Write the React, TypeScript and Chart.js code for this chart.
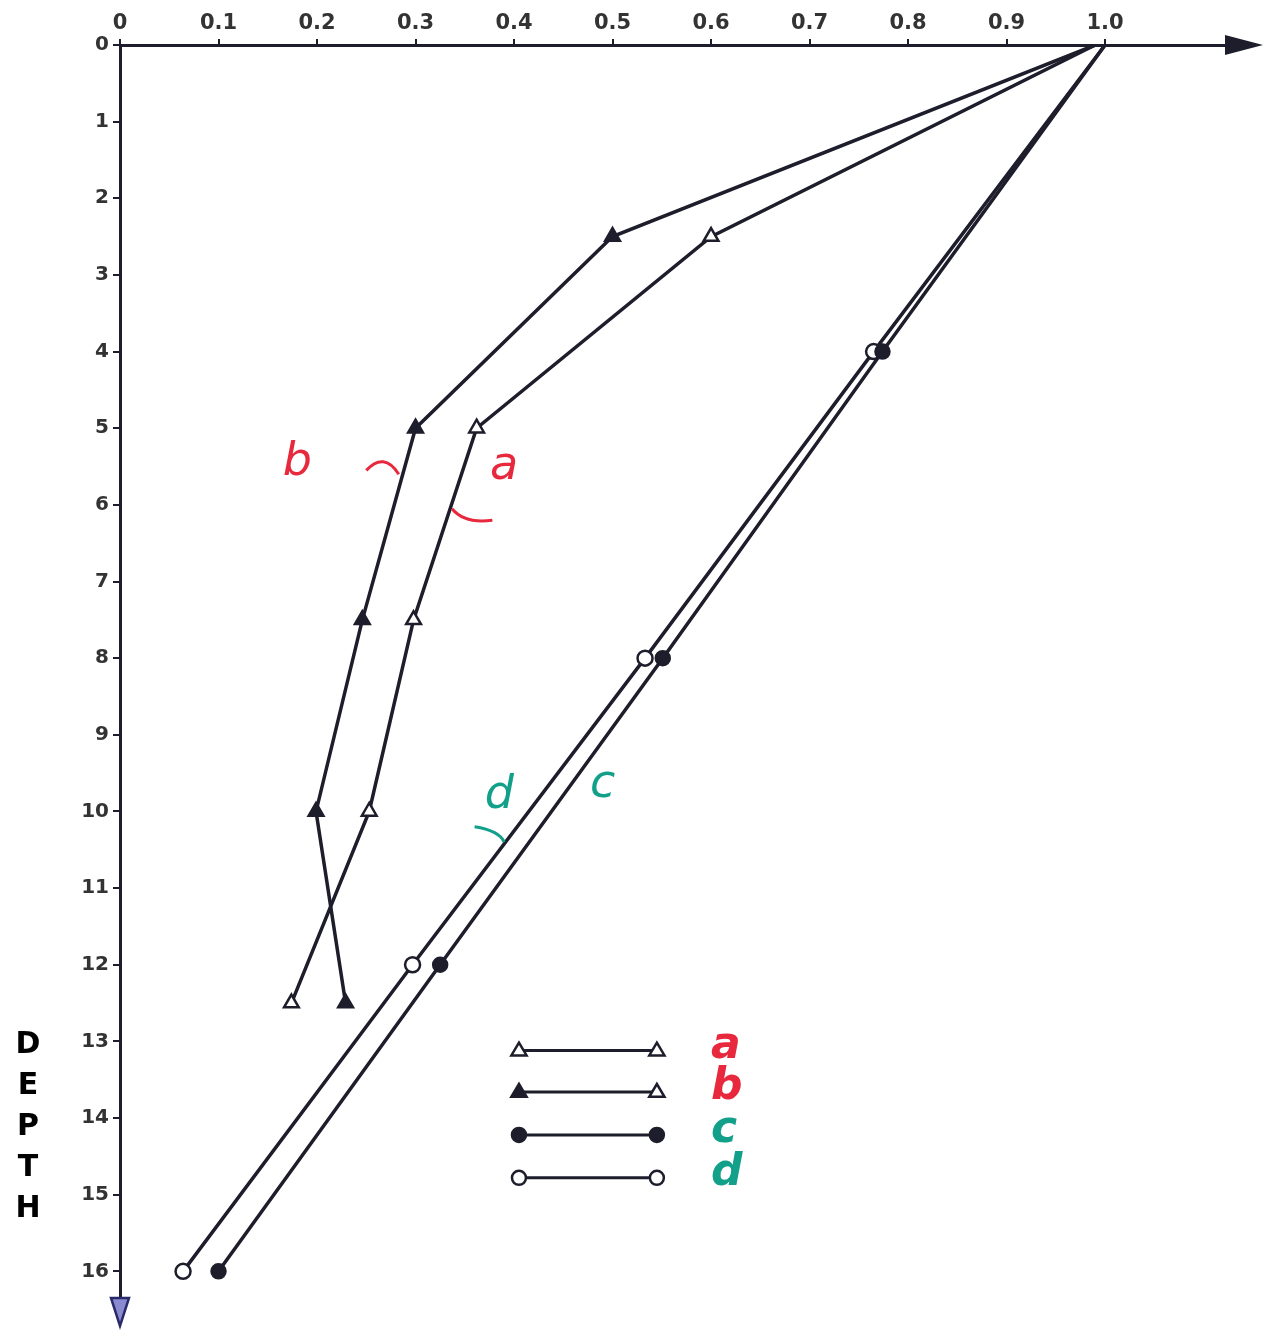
import React, { useEffect, useRef } from "react";
import { Chart, registerables } from "chart.js";

Chart.register(...registerables);

// ---- data ----
const xTickValues = [0, 0.1, 0.2, 0.3, 0.4, 0.5, 0.6, 0.7, 0.8, 0.9, 1.0];
const xTickLabels = ["0", "0.1", "0.2", "0.3", "0.4", "0.5", "0.6", "0.7", "0.8", "0.9", "1.0"];
const depthTicks = [0, 1, 2, 3, 4, 5, 6, 7, 8, 9, 10, 11, 12, 13, 14, 15, 16];

const depthsAB = [0, 2.5, 5, 7.5, 10, 12.5];
const seriesA = [0.99, 0.6, 0.362, 0.298, 0.253, 0.174];
const seriesB = [0.99, 0.5, 0.3, 0.246, 0.199, 0.229];

const depthsCD = [0, 4, 8, 12, 16];
const seriesC = [1.0, 0.774, 0.551, 0.325, 0.1];
const seriesD = [1.0, 0.765, 0.533, 0.297, 0.064];

const seriesNames = ["a", "b", "c", "d"];

const INK = "#1d1d2b";
const RED = "#e8283c";
const GREEN = "#12a08a";

function pts(xs: number[], ys: number[]) {
  return xs.map((x, i) => ({ x, y: ys[i] }));
}

function drawTri(ctx: CanvasRenderingContext2D, x: number, y: number, r: number, filled: boolean) {
  ctx.beginPath();
  ctx.moveTo(x, y - r);
  ctx.lineTo(x + r * 0.95, y + r * 0.6);
  ctx.lineTo(x - r * 0.95, y + r * 0.6);
  ctx.closePath();
  ctx.fillStyle = filled ? INK : "#fff";
  ctx.fill();
  ctx.lineWidth = 2.5;
  ctx.strokeStyle = INK;
  ctx.stroke();
}
function drawCirc(ctx: CanvasRenderingContext2D, x: number, y: number, r: number, filled: boolean) {
  ctx.beginPath();
  ctx.arc(x, y, r, 0, Math.PI * 2);
  ctx.fillStyle = filled ? INK : "#fff";
  ctx.fill();
  ctx.lineWidth = 2.5;
  ctx.strokeStyle = INK;
  ctx.stroke();
}

const decorPlugin = {
  id: "decor",
  afterDraw(chart: any) {
    const ctx: CanvasRenderingContext2D = chart.ctx;
    const xs = chart.scales.x;
    const ys = chart.scales.y;
    const area = chart.chartArea;
    ctx.save();
    // x arrow
    ctx.fillStyle = INK;
    ctx.beginPath();
    ctx.moveTo(area.right - 18, area.top - 10);
    ctx.lineTo(area.right + 20, area.top);
    ctx.lineTo(area.right - 18, area.top + 10);
    ctx.closePath();
    ctx.fill();
    // y arrow
    ctx.beginPath();
    ctx.moveTo(area.left - 9, area.bottom - 4);
    ctx.lineTo(area.left + 9, area.bottom - 4);
    ctx.lineTo(area.left, area.bottom + 24);
    ctx.closePath();
    ctx.fillStyle = "#8a8ad0";
    ctx.fill();
    ctx.strokeStyle = "#2a2a6a";
    ctx.lineWidth = 2.5;
    ctx.stroke();

    // DEPTH letters
    ctx.fillStyle = "#000";
    ctx.font = "bold 30px 'DejaVu Sans'";
    ctx.textAlign = "center";
    ctx.textBaseline = "middle";
    const letters = ["D", "E", "P", "T", "H"];
    letters.forEach((L, i) => {
      ctx.fillText(L, 28, ys.getPixelForValue(13.05 + i * 0.535));
    });

    // handwritten annotations
    ctx.font = "italic 46px 'DejaVu Sans'";
    ctx.fillStyle = RED;
    ctx.fillText("b", xs.getPixelForValue(0.18), ys.getPixelForValue(5.45));
    ctx.fillText("a", xs.getPixelForValue(0.39), ys.getPixelForValue(5.5));
    ctx.fillStyle = GREEN;
    ctx.fillText("d", xs.getPixelForValue(0.385), ys.getPixelForValue(9.8));
    ctx.fillText("c", xs.getPixelForValue(0.49), ys.getPixelForValue(9.65));

    // hand brackets
    ctx.lineWidth = 3;
    ctx.strokeStyle = RED;
    ctx.beginPath();
    ctx.moveTo(xs.getPixelForValue(0.25), ys.getPixelForValue(5.55));
    ctx.quadraticCurveTo(xs.getPixelForValue(0.268), ys.getPixelForValue(5.3), xs.getPixelForValue(0.283), ys.getPixelForValue(5.6));
    ctx.stroke();
    ctx.beginPath();
    ctx.moveTo(xs.getPixelForValue(0.337), ys.getPixelForValue(6.05));
    ctx.quadraticCurveTo(xs.getPixelForValue(0.35), ys.getPixelForValue(6.25), xs.getPixelForValue(0.378), ys.getPixelForValue(6.2));
    ctx.stroke();
    ctx.strokeStyle = GREEN;
    ctx.beginPath();
    ctx.moveTo(xs.getPixelForValue(0.36), ys.getPixelForValue(10.2));
    ctx.quadraticCurveTo(xs.getPixelForValue(0.385), ys.getPixelForValue(10.25), xs.getPixelForValue(0.39), ys.getPixelForValue(10.4));
    ctx.stroke();

    // legend
    const lx0 = xs.getPixelForValue(0.405);
    const lx1 = xs.getPixelForValue(0.545);
    const rows = [13.12, 13.66, 14.22, 14.78];
    const styles = [
      [ "tri", false, false ],
      [ "tri", true, false ],
      [ "circ", true, true ],
      [ "circ", false, false ],
    ];
    const labelColors = [RED, RED, GREEN, GREEN];
    rows.forEach((r, i) => {
      const y = ys.getPixelForValue(r);
      ctx.strokeStyle = INK;
      ctx.lineWidth = 3;
      ctx.beginPath();
      ctx.moveTo(lx0, y);
      ctx.lineTo(lx1, y);
      ctx.stroke();
      const [kind, f0, f1] = styles[i] as [string, boolean, boolean];
      if (kind === "tri") {
        drawTri(ctx, lx0, y, 8, f0);
        drawTri(ctx, lx1, y, 8, f1);
      } else {
        drawCirc(ctx, lx0, y, 7, f0);
        drawCirc(ctx, lx1, y, 7, f1);
      }
      ctx.fillStyle = labelColors[i];
      ctx.font = "italic bold 44px 'DejaVu Sans'";
      ctx.textAlign = "left";
      ctx.fillText(seriesNames[i], xs.getPixelForValue(0.6), y - 4);
    });
    ctx.restore();
  },
};

export default function App() {
  const ref = useRef<HTMLCanvasElement | null>(null);
  useEffect(() => {
    document.body.style.margin = "0";
    document.body.style.background = "#fff";
    const lineCommon = {
      showLine: true,
      borderColor: INK,
      borderWidth: 3.5,
      pointBorderColor: INK,
      pointBorderWidth: 2.5,
      tension: 0,
    };
    const chart = new Chart(ref.current!, {
      type: "scatter",
      data: {
        datasets: [
          {
            ...lineCommon,
            label: seriesNames[0],
            data: pts(seriesA, depthsAB),
            pointStyle: "triangle",
            pointRadius: depthsAB.map((d) => (d === 0 ? 0 : 8.5)),
            pointBackgroundColor: "#fff",
          },
          {
            ...lineCommon,
            label: seriesNames[1],
            data: pts(seriesB, depthsAB),
            pointStyle: "triangle",
            pointRadius: depthsAB.map((d) => (d === 0 ? 0 : 8.5)),
            pointBackgroundColor: INK,
          },
          {
            ...lineCommon,
            label: seriesNames[2],
            data: pts(seriesC, depthsCD),
            pointStyle: "circle",
            pointRadius: depthsCD.map((d) => (d === 0 ? 0 : 7)),
            pointBackgroundColor: INK,
          },
          {
            ...lineCommon,
            label: seriesNames[3],
            data: pts(seriesD, depthsCD),
            pointStyle: "circle",
            pointRadius: depthsCD.map((d) => (d === 0 ? 0 : 7.5)),
            pointBackgroundColor: "#fff",
          },
        ],
      },
      options: {
        animation: false,
        responsive: false,
        maintainAspectRatio: false,
        layout: { padding: { top: 0, left: 0, right: 20, bottom: 29 } },
        plugins: {
          legend: { display: false },
          tooltip: { enabled: false },
        },
        scales: {
          x: {
            type: "linear",
            position: "top",
            min: 0,
            max: 1.14,
            afterBuildTicks: (s: any) => {
              s.ticks = xTickValues.map((v) => ({ value: v }));
            },
            afterFit: (s: any) => {
              s.height = 45;
            },
            ticks: {
              autoSkip: false,
              maxRotation: 0,
              padding: 3,
              color: "#333",
              font: { family: "'DejaVu Sans'", size: 21, weight: "bold" },
              callback: (v: any) => {
                const i = xTickValues.findIndex((t) => Math.abs(t - v) < 1e-9);
                return i >= 0 ? xTickLabels[i] : "";
              },
            },
            grid: {
              drawOnChartArea: false,
              drawTicks: true,
              tickLength: 6,
              color: INK,
              lineWidth: 2,
            },
            border: { display: true, color: INK, width: 3 },
          },
          y: {
            type: "linear",
            reverse: true,
            min: 0,
            max: 16.4,
            afterBuildTicks: (s: any) => {
              s.ticks = depthTicks.map((v) => ({ value: v }));
            },
            afterFit: (s: any) => {
              s.width = 120;
            },
            ticks: {
              autoSkip: false,
              padding: 4,
              color: "#333",
              font: { family: "'DejaVu Sans'", size: 20, weight: "bold" },
              callback: (v: any) => String(v),
            },
            grid: {
              drawOnChartArea: false,
              drawTicks: true,
              tickLength: 7,
              color: INK,
              lineWidth: 2,
            },
            border: { display: true, color: INK, width: 3 },
          },
        },
      },
      plugins: [decorPlugin],
    } as any);
    return () => chart.destroy();
  }, []);
  return <canvas ref={ref} width={1263} height={1331} style={{ display: "block" }} />;
}
